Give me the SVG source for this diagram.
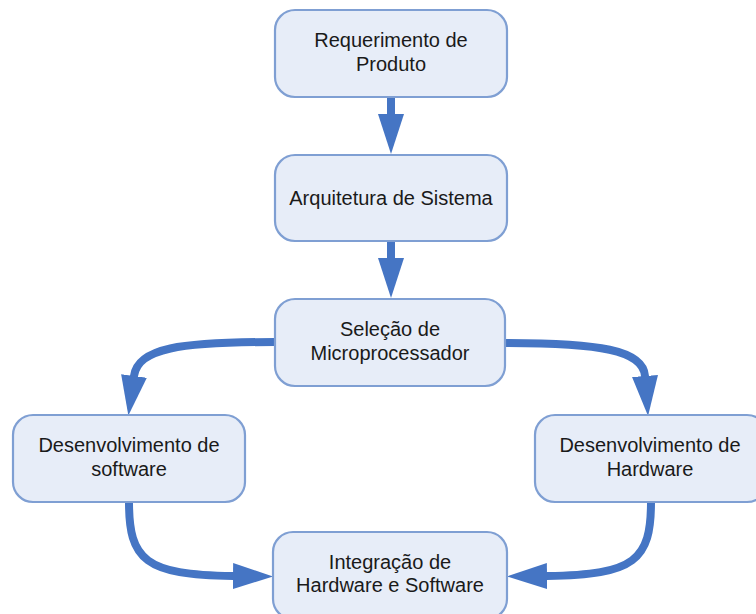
<svg xmlns="http://www.w3.org/2000/svg" width="756" height="614" viewBox="0 0 756 614">
<style>
.box{fill:#E7EDF8;stroke:#7F9FD3;stroke-width:2.2}
.t{font-family:"Liberation Sans",Arial,sans-serif;font-size:20px;fill:#1a1a1a;text-anchor:middle}
.c{fill:none;stroke:#4575C4;stroke-width:8;stroke-linecap:round}
</style>
<defs>
<marker id="ah" viewBox="0 -13 40 26" refX="0" refY="0" markerWidth="40" markerHeight="26" markerUnits="userSpaceOnUse" orient="auto">
<path d="M0,-13 L40,0 L0,13 Z" fill="#4575C4"/>
</marker>
</defs>
<rect width="756" height="614" fill="#fff"/>
<g id="connectors">
<path class="c" d="M391,97 L391,114" marker-end="url(#ah)"/>
<path class="c" d="M391,241 L391,258" marker-end="url(#ah)"/>
<path class="c" d="M275,342 C180,342 138,348 134,376" marker-end="url(#ah)"/>
<path class="c" d="M503,343 C600,343 643,350 645,376" marker-end="url(#ah)"/>
<path class="c" d="M129,502 C129,560 145,575 233,576" marker-end="url(#ah)"/>
<path class="c" d="M651,502 C651,560 635,575 547,576" marker-end="url(#ah)"/>
</g>
<g id="n1"><rect class="box" x="275" y="10" width="232" height="87" rx="20"/>
<text class="t" x="391" y="47">Requerimento de</text><text class="t" x="391" y="71">Produto</text></g>
<g id="n2"><rect class="box" x="275" y="155" width="232" height="86" rx="20"/>
<text class="t" x="391" y="205">Arquitetura de Sistema</text></g>
<g id="n3"><rect class="box" x="275" y="299" width="230" height="87" rx="20"/>
<text class="t" x="390" y="336">Seleção de</text><text class="t" x="390" y="360">Microprocessador</text></g>
<g id="n4"><rect class="box" x="13" y="415" width="232" height="87" rx="20"/>
<text class="t" x="129" y="452">Desenvolvimento de</text><text class="t" x="129" y="476">software</text></g>
<g id="n5"><rect class="box" x="535" y="415" width="232" height="87" rx="20"/>
<text class="t" x="650" y="452">Desenvolvimento de</text><text class="t" x="650" y="476">Hardware</text></g>
<g id="n6"><rect class="box" x="273" y="532" width="234" height="87" rx="20"/>
<text class="t" x="390" y="569">Integração de</text><text class="t" x="390" y="592">Hardware e Software</text></g>
</svg>
